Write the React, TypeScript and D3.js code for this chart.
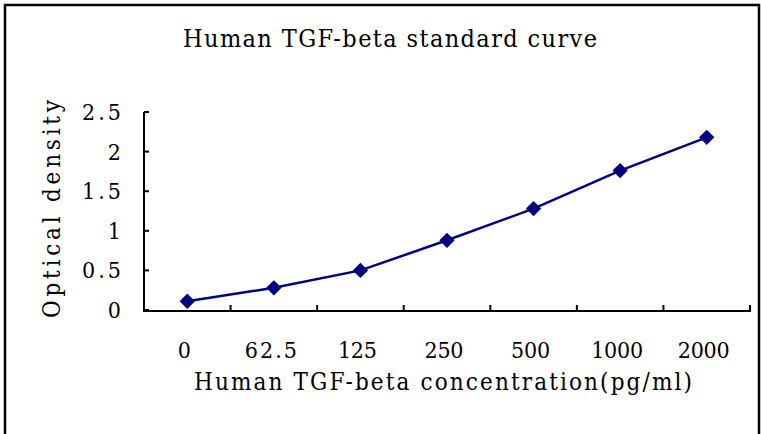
import React, { useEffect } from "react";
import * as d3 from "d3";

const concentrations = ["0", "62.5", "125", "250", "500", "1000", "2000"];
const opticalDensity = [0.11, 0.28, 0.5, 0.88, 1.28, 1.76, 2.18];
const yTicks = [0, 0.5, 1, 1.5, 2, 2.5];

const W = 761;
const H = 434;
const FONT = "'DejaVu Serif Condensed', 'Liberation Serif', serif";

export default function App() {
  useEffect(() => {
    document.body.style.margin = "0";
  }, []);

  const x = d3
    .scaleBand<string>()
    .domain(concentrations)
    .range([144, 750])
    .padding(0);
  const y = d3.scaleLinear().domain([0, 2.5]).range([310, 112]);

  const data = concentrations.map((c, i) => ({ c, v: opticalDensity[i] }));
  const cx = (c: string) => (x(c) || 0) + x.bandwidth() / 2;

  const line = d3
    .line<{ c: string; v: number }>()
    .x((d) => cx(d.c))
    .y((d) => y(d.v));

  const diamond = d3.symbol().type(d3.symbolDiamond2).size(150)();

  // tick marks sit on the band boundaries
  const boundaries = concentrations.map((c) => (x(c) || 0) + x.bandwidth());

  const textLen = (s: string, per: number) =>
    s.length > 1 ? s.length * per : undefined;

  return (
    <svg width={W} height={H} style={{ display: "block" }}>
      <rect x={0} y={0} width={W} height={H} fill="#fff" />
      {/* outer frame */}
      <rect
        x={5}
        y={5}
        width={754}
        height={H + 10}
        fill="none"
        stroke="#000"
        strokeWidth={2.5}
      />

      <text
        x={390}
        y={47}
        textAnchor="middle"
        fontFamily={FONT}
        fontSize={25}
        textLength={414}
        lengthAdjust="spacing"
      >
        Human TGF-beta standard curve
      </text>

      {/* y axis */}
      <line x1={144} x2={144} y1={y(2.5)} y2={y(0)} stroke="#000" strokeWidth={2} />
      {yTicks.map((t) => (
        <g key={t}>
          <line x1={144} x2={149} y1={y(t)} y2={y(t)} stroke="#000" strokeWidth={2} />
          <text
            x={121}
            y={y(t) + 8}
            textAnchor="end"
            fontFamily={FONT}
            fontSize={23}
            textLength={textLen(String(t), 13)}
            lengthAdjust="spacing"
          >
            {String(t)}
          </text>
        </g>
      ))}

      {/* x axis */}
      <line x1={143} x2={751} y1={311} y2={311} stroke="#000" strokeWidth={2} />
      {boundaries.map((b, i) => (
        <line key={i} x1={b} x2={b} y1={311} y2={305} stroke="#000" strokeWidth={2} />
      ))}
      {concentrations.map((c) => (
        <text
          key={c}
          x={cx(c) - 3}
          y={358}
          textAnchor="middle"
          fontFamily={FONT}
          fontSize={23}
          textLength={textLen(c, 13)}
          lengthAdjust="spacing"
        >
          {c}
        </text>
      ))}

      <text
        x={443}
        y={390}
        textAnchor="middle"
        fontFamily={FONT}
        fontSize={24}
        textLength={498}
        lengthAdjust="spacing"
      >
        Human TGF-beta concentration(pg/ml)
      </text>

      <text
        transform={`translate(60,209) rotate(-90)`}
        textAnchor="middle"
        fontFamily={FONT}
        fontSize={24}
        textLength={218}
        lengthAdjust="spacing"
      >
        Optical density
      </text>

      {/* series */}
      <path d={line(data) || ""} fill="none" stroke="#000080" strokeWidth={2.5} />
      {data.map((d) => (
        <path
          key={d.c}
          d={diamond || ""}
          transform={`translate(${cx(d.c)},${y(d.v)})`}
          fill="#000080"
        />
      ))}
    </svg>
  );
}
